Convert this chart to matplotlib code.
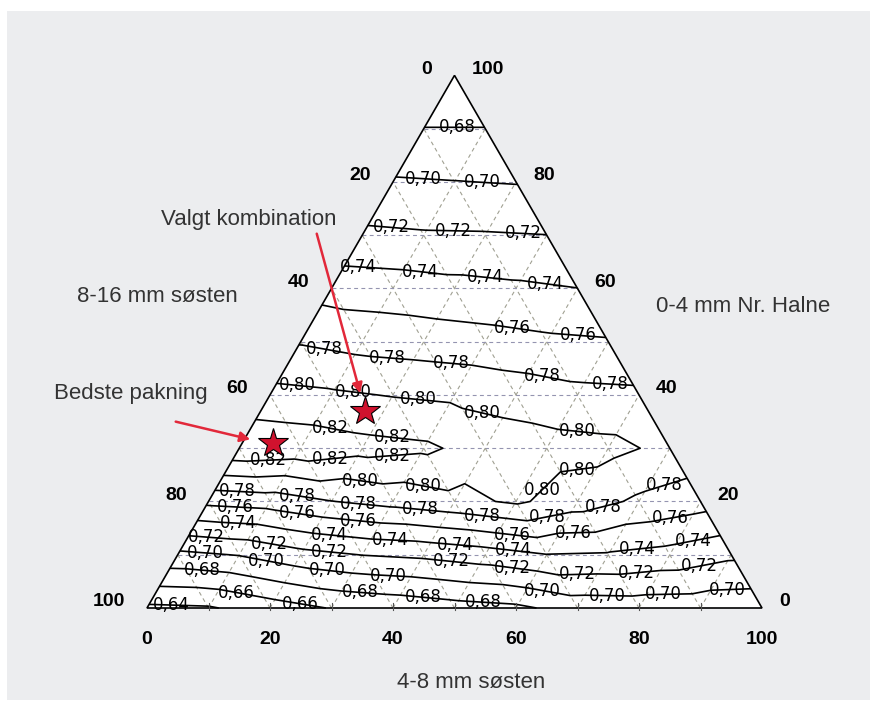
import numpy as np
import matplotlib
matplotlib.use("Agg")
import matplotlib.pyplot as plt
import matplotlib.tri as mtri
from matplotlib.patches import Polygon, Rectangle
from matplotlib import font_manager

# packing value on a 10 % lattice
# row k -> 0-4 mm Nr. Halne = 10*k %, entries -> 4-8 mm søsten = 0, 10, 20 ... %
eff_rows = [
    [0.636, 0.638, 0.650, 0.661, 0.666, 0.672, 0.676, 0.688, 0.689, 0.688, 0.6864],
    [0.695, 0.701, 0.7133, 0.7205, 0.724, 0.7305, 0.7395, 0.738, 0.733, 0.724],
    [0.765, 0.769, 0.7795, 0.7867, 0.794, 0.803, 0.790, 0.7765, 0.7684],
    [0.8364, 0.833, 0.827, 0.8236, 0.812, 0.808, 0.8054, 0.795],
    [0.806, 0.803, 0.799, 0.796, 0.791, 0.7855, 0.784],
    [0.7784, 0.7727, 0.7702, 0.7674, 0.7637, 0.7617],
    [0.7517, 0.7497, 0.7463, 0.7435, 0.7402],
    [0.724, 0.722, 0.7215, 0.7202],
    [0.702, 0.7005, 0.699],
    [0.6805, 0.6805],
    [0.6605],
]
levels = [0.64, 0.66, 0.68, 0.70, 0.72, 0.74, 0.76, 0.78, 0.80, 0.82]

# marked mixes: (4-8 mm %, 0-4 mm %)
best_mix = (5, 31)
chosen_mix = (17, 37)

left_ticks = [0, 20, 40, 60, 80, 100]     # 8-16 mm søsten
right_ticks = [100, 80, 60, 40, 20, 0]    # 0-4 mm Nr. Halne
bottom_ticks = [0, 20, 40, 60, 80, 100]   # 4-8 mm søsten

# triangle geometry in pixels
X0, Y0, SIDE = 147.0, 608.0, 615.0
S3 = np.sqrt(3) / 2


def tern(b, h):
    return X0 + SIDE * (b + h / 2), Y0 - SIDE * h * S3


names = {f.name for f in font_manager.fontManager.ttflist}
narrow = 'Liberation Sans Narrow' if 'Liberation Sans Narrow' in names else 'Liberation Sans'

fig = plt.figure(figsize=(8.76, 7.09), dpi=100)
ax = fig.add_axes([0, 0, 1, 1])
ax.set_xlim(0, 876)
ax.set_ylim(709, 0)
ax.axis('off')

ax.add_patch(Rectangle((7, 11), 863, 689, facecolor='#ecedef', edgecolor='none', zorder=0))

corners = [tern(0, 0), tern(1, 0), tern(0, 1)]
ax.add_patch(Polygon(corners, closed=True, facecolor='white', edgecolor='none', zorder=1))

# dashed lattice
for k in range(1, 10):
    f = k / 10
    xa, ya = tern(0, f)
    xb, yb = tern(1 - f, f)
    ax.plot([xa, xb], [ya, yb], ls=(0, (3.5, 3)), lw=0.8, color='#9494b0', zorder=2)
    xa, ya = tern(f, 0)
    xb, yb = tern(f, 1 - f)
    ax.plot([xa, xb], [ya, yb], ls=(0, (3.5, 3)), lw=0.8, color='#a0a092', zorder=2)
    xa, ya = tern(1 - f, 0)
    xb, yb = tern(0, 1 - f)
    ax.plot([xa, xb], [ya, yb], ls=(0, (3.5, 3)), lw=0.8, color='#a0a092', zorder=2)

# contour field
px, py, vals = [], [], []
for k, row in enumerate(eff_rows):
    for j, v in enumerate(row):
        x, y = tern(j / 10, k / 10)
        px.append(x)
        py.append(y)
        vals.append(v)
tri = mtri.Triangulation(px, py)
cs = ax.tricontour(tri, vals, levels=levels, colors='black', linewidths=1.2, zorder=3)

label_px = [
    (457, 128),
    (423, 178), (482, 183),
    (392, 222), (453, 230), (523, 237),
    (358, 267), (420, 271), (485, 277), (545, 285),
    (513, 325), (578, 333),
    (325, 348), (388, 355), (452, 360), (543, 373), (610, 385),
    (297, 385), (353, 392), (418, 400), (483, 409), (577, 430),
    (330, 430), (393, 436),
    (392, 452), (330, 458), (268, 460),
    (360, 483), (423, 488), (540, 488), (577, 470),
    (237, 492), (297, 497), (358, 503), (420, 509), (482, 515), (547, 515), (603, 507), (665, 488),
    (235, 507), (297, 515), (358, 521), (513, 533), (573, 532), (670, 519),
    (238, 522), (330, 533), (390, 540), (455, 544), (513, 552), (637, 550), (693, 540),
    (207, 532), (270, 542), (330, 550), (452, 558), (512, 568), (577, 573), (637, 575), (700, 567),
    (206, 549), (267, 559), (328, 568), (388, 573), (543, 588), (607, 595), (663, 595), (727, 587),
    (203, 568), (360, 590), (423, 597), (483, 600),
    (237, 590), (300, 603),
    (171, 602),
]
texts = ax.clabel(cs, manual=label_px, inline=False, fontsize=12,
                  fmt=lambda v: f"{v:.2f}".replace('.', ','))
for t in texts:
    t.set_rotation(0)
    t.set_zorder(4)

# triangle outline and bottom ticks
ax.add_patch(Polygon(corners, closed=True, facecolor='none', edgecolor='black', lw=1.2, zorder=5))
for j in range(1, 10):
    x, y = tern(j / 10, 0)
    ax.plot([x, x], [y - 5, y + 2], color='#555555', lw=0.8, zorder=5)

tick_font = dict(family=narrow, fontweight='bold', fontsize=14, color='black')
for v in left_ticks:
    x, y = tern(0, 1 - v / 100)
    ax.text(x - 22, y - 6, str(v), ha='right', va='center', **tick_font)
for v in right_ticks:
    h = v / 100
    x, y = tern(1 - h, h)
    ax.text(x + 17, y - 6, str(v), ha='left', va='center', **tick_font)
for v in bottom_ticks:
    x, y = tern(v / 100, 0)
    ax.text(x, 639, str(v), ha='center', va='center', **tick_font)

lab_font = dict(family='Liberation Sans', fontsize=16, color='#333333')
ax.text(157, 297, '8-16 mm søsten', ha='center', va='center', **lab_font)
ax.text(743, 307, '0-4 mm Nr. Halne', ha='center', va='center', **lab_font)
ax.text(471, 682, '4-8 mm søsten', ha='center', va='center', **lab_font)
ax.text(249, 219, 'Valgt kombination', ha='center', va='center', **lab_font)
ax.text(131, 394, 'Bedste pakning', ha='center', va='center', **lab_font)

red = '#e2283a'
ax.annotate('', xy=(361, 396), xytext=(316, 231),
            arrowprops=dict(arrowstyle='-|>', color=red, lw=1.8, mutation_scale=15), zorder=6)
ax.annotate('', xy=(253, 440), xytext=(173, 421),
            arrowprops=dict(arrowstyle='-|>', color=red, lw=1.8, mutation_scale=15), zorder=6)

for b, h in (best_mix, chosen_mix):
    x, y = tern(b / 100, h / 100)
    ax.plot(x, y, marker='*', ms=22, mfc='#d0122e', mec='black', mew=0.8, zorder=7)

fig.savefig('out.png', dpi=100, facecolor='white')
